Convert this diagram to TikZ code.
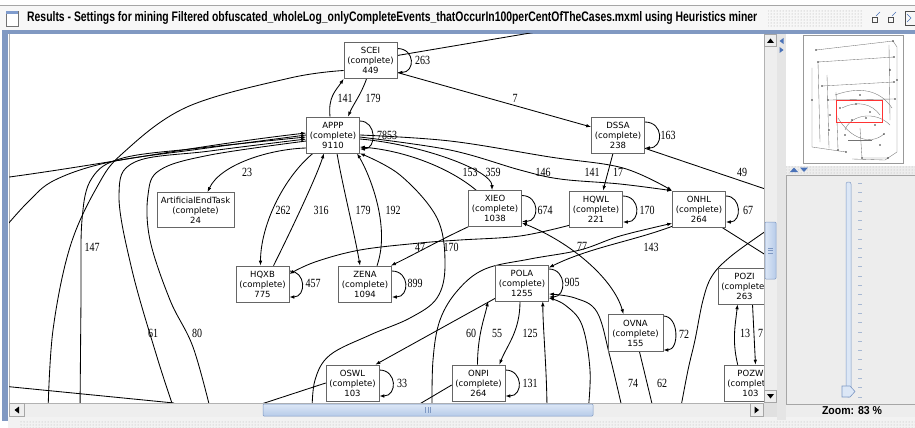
\documentclass[tikz,border=0pt]{standalone}
\usepackage{graphicx}
\usepackage{fontspec}
\setmainfont{Liberation Serif}
\newfontfamily\nodefont{DejaVu Sans}
\newfontfamily\uifont{Liberation Sans}
\newfontfamily\lblfont[FakeStretch=0.8]{Liberation Serif}
\usetikzlibrary{arrows.meta,calc,patterns}
\pgfdeclarelayer{back}
\pgfdeclarelayer{bg}
\pgfsetlayers{back,bg,main}
\definecolor{frameblue}{HTML}{8199C2}
\definecolor{trackgray}{HTML}{EEEEEE}
\definecolor{thumbA}{HTML}{DCE7F6}
\definecolor{thumbB}{HTML}{B7CBE9}
\definecolor{thumbline}{HTML}{7E98C3}
\definecolor{panelgray}{HTML}{EDEDED}
\definecolor{tickblue}{HTML}{A8B9D3}
\definecolor{arrblue}{HTML}{4A72B8}
\tikzset{
 act/.style={draw=black!60, fill=white, line width=0.6pt, minimum width=53pt, minimum height=36pt, inner sep=0pt, align=center, font=\nodefont\fontsize{8.5}{10}\selectfont},
 lbl/.style={font=\lblfont\fontsize{12.5}{14}\selectfont, inner sep=0pt},
 edge/.style={line width=0.85pt, draw=black},
 arr/.style={edge, -{Latex[length=5pt,width=3.6pt]}},
 darr/.style={edge, {Latex[length=5pt,width=3.6pt]}-{Latex[length=5pt,width=3.6pt]}},
 sm/.style={smooth, tension=0.6},
 btn/.style={fill=trackgray, draw=black!35, line width=0.4pt},
 ovl/.style={draw=black!55, line width=0.35pt},
 uitri/.style={fill=black},
 bluetri/.style={fill=arrblue},
}
\newcommand\actloop[3]{\draw[arr] ($(#1.east)+(0,-#2)$) .. controls +(#3,0) and +(#3,0) .. ($(#1.east)+(0,#2)$);}
\begin{document}
\begin{tikzpicture}[x=1pt,y=-1pt]
\useasboundingbox (0,0) rectangle (915,428);

% ---------- window chrome (back layer) ----------
\begin{pgfonlayer}{back}
\fill[white] (0,0) rectangle (915,428);
\fill[black!3] (0,5) rectangle (915,30);
\draw[black!35,line width=0.5pt] (0,5.5) -- (915,5.5);
\fill[pattern=dots, pattern color=black!35] (768,11) rectangle (862,27);
\fill[frameblue] (2,30) rectangle (915,34);
\fill[frameblue] (2,30) rectangle (8,421);
\fill[white] (9,34) rectangle (764,403);
\draw[black!30,line width=0.5pt] (9,34) -- (9,403);
\fill[panelgray] (777,34) rectangle (915,420);
\fill[black!5] (8,417) rectangle (915,428);
\fill[pattern=dots, pattern color=black!30] (20,421) rectangle (915,428);
\end{pgfonlayer}

% ---------- activity nodes ----------
\begin{scope}
\clip (9,34) rectangle (764,403);
\node[act] (SCEI) at (370.5,60.5) {SCEI\\(complete)\\449};
\node[act] (APPP) at (333,135) {APPP\\(complete)\\9110};
\node[act] (DSSA) at (618,135) {DSSA\\(complete)\\238};
\node[act, minimum width=77pt, minimum height=35pt] (AET) at (195.5,210) {ArtificialEndTask\\(complete)\\24};
\node[act] (XIEO) at (495,208.5) {XIEO\\(complete)\\1038};
\node[act] (HQWL) at (596,209) {HQWL\\(complete)\\221};
\node[act] (ONHL) at (699,209) {ONHL\\(complete)\\264};
\node[act] (HQXB) at (262.5,284) {HQXB\\(complete)\\775};
\node[act] (ZENA) at (365,284) {ZENA\\(complete)\\1094};
\node[act] (POLA) at (522,283) {POLA\\(complete)\\1255};
\node[act] (POZI) at (744.5,286) {POZI\\(complete)\\263};
\node[act, minimum width=55pt, minimum height=37pt] (OVNA) at (635.5,333) {OVNA\\(complete)\\155};
\node[act] (OSWL) at (352.5,383) {OSWL\\(complete)\\103};
\node[act] (ONPI) at (478.5,383) {ONPI\\(complete)\\264};
\node[act] (POZW) at (750.5,383) {POZW\\(complete)\\103};

% free ends
\coordinate (cTR) at (548,30);
\coordinate (cBL1) at (48,412);
\coordinate (cL1) at (2,178);
\coordinate (cL2) at (2,231);
\coordinate (cB3) at (80,412);
\coordinate (cB4) at (175,412);
\coordinate (cB5) at (211,412);
\coordinate (cL7) at (2,386);
\coordinate (cB6) at (174,403);
\coordinate (cB7) at (312,412);
\coordinate (cR1) at (780,194);
\coordinate (cB10) at (432,412);
\coordinate (cB11) at (547,412);
\coordinate (cB12) at (588,412);
\coordinate (cB13) at (623,412);
\coordinate (cB14) at (654,412);
\coordinate (cR2) at (780,222);
\coordinate (cB15) at (680,412);
\coordinate (cR3) at (780,264);
\coordinate (cB16) at (237,412);
\coordinate (cB17) at (406,412);

% anchors on nodes
\coordinate (sA) at ($(SCEI.west)+(0,10)$);
\coordinate (aL1) at ($(APPP.west)+(0,-2)$);
\coordinate (aL2) at ($(APPP.west)+(0,0)$);
\coordinate (aL3) at ($(APPP.west)+(0,2)$);
\coordinate (aL4) at ($(APPP.west)+(0,4)$);
\coordinate (aL5) at ($(APPP.west)+(0,6)$);
\coordinate (aR3) at ($(APPP.east)+(0,2)$);
\coordinate (aR4) at ($(APPP.east)+(0,0)$);
\coordinate (hqA) at ($(HQWL.south west)+(0,-2)$);
\coordinate (hB) at ($(HQXB.east)+(0,-10)$);
\coordinate (oB) at ($(ONHL.south west)+(0,-4)$);
\coordinate (pA) at ($(POLA.east)+(0,15)$);
\coordinate (pB) at ($(POLA.east)+(0,11)$);
\end{scope}

% ---------- edge labels ----------
\begin{scope}
\clip (9,34) rectangle (764,403);
\node[lbl] (l263) at (422.5,60) {263};
\node[lbl] (l141a) at (345,98) {141};
\node[lbl] (l179a) at (373,98) {179};
\node[lbl] (l7a) at (515,98) {7};
\node[lbl] (l7853) at (387,135) {7853};
\node[lbl] (l163) at (668,135) {163};
\node[lbl] (l23) at (247,172) {23};
\node[lbl] (l153) at (470,172) {153};
\node[lbl] (l359) at (493,172) {359};
\node[lbl] (l146) at (543,172) {146};
\node[lbl] (l141b) at (592,172) {141};
\node[lbl] (l17) at (618,172) {17};
\node[lbl] (l49) at (742,172) {49};
\node[lbl] (l262) at (283,210) {262};
\node[lbl] (l316) at (321,210) {316};
\node[lbl] (l179b) at (363,210) {179};
\node[lbl] (l192) at (393,210) {192};
\node[lbl] (l674) at (545,210) {674};
\node[lbl] (l170a) at (647,210) {170};
\node[lbl] (l67) at (748,210) {67};
\node[lbl] (l147) at (92,247) {147};
\node[lbl] (l47) at (420,247) {47};
\node[lbl] (l170b) at (451,247) {170};
\node[lbl] (l77) at (582,246) {77};
\node[lbl] (l143) at (651,247) {143};
\node[lbl] (l457) at (313,283) {457};
\node[lbl] (l899) at (415,283) {899};
\node[lbl] (l905) at (572,282) {905};
\node[lbl] (l61) at (153,333) {61};
\node[lbl] (l80) at (197,333) {80};
\node[lbl] (l60) at (471,333) {60};
\node[lbl] (l55) at (497,333) {55};
\node[lbl] (l125) at (530,333) {125};
\node[lbl] (l72) at (684,334) {72};
\node[lbl] (l13) at (745,333) {13};
\node[lbl, anchor=west] (l7b) at (758,333) {7};
\node[lbl] (l33) at (402,383) {33};
\node[lbl] (l131) at (530,383) {131};
\node[lbl] (l74) at (633,383) {74};
\node[lbl] (l62) at (662,383) {62};
\end{scope}

% ---------- connectors (bg layer) ----------
\begin{pgfonlayer}{bg}
\begin{scope}
\clip (9,34) rectangle (764,403);
% self loops
\actloop{SCEI}{12}{18}
\actloop{APPP}{14}{17}
\actloop{DSSA}{13}{19}
\actloop{XIEO}{13}{18}
\actloop{HQWL}{13}{18}
\actloop{ONHL}{13}{16}
\actloop{HQXB}{13}{17}
\actloop{ZENA}{13}{18}
\actloop{POLA}{14}{18}
\actloop{OVNA}{17}{16}
\actloop{OSWL}{13}{18}
\actloop{ONPI}{13}{18}
% SCEI
\draw[edge] plot[sm] coordinates {(sA) (290,78) (187,107) (123,153) (97,187) (70,247) (53,330) (cBL1)};
\draw[edge] (cTR) -- ($(SCEI.east)+(0,-5)$);
\draw[arr] ($(SCEI.east)+(0,12)$) -- ($(DSSA.west)+(0,-8)$);
\draw[arr] ($(APPP.north)+(-3,0)$) .. controls +(-2,-20) and +(-8,12) .. (SCEI.south west);
\draw[arr] ($(SCEI.south)+(-4,0)$) .. controls +(-5,15) and +(5,-12) .. ($(APPP.north)+(15,0)$);
% APPP left fan
\draw[arr] (cL1) .. controls (100,165) and (200,145) .. (aL1);
\draw[edge] plot[sm] coordinates {(aL2) (200,149) (110,162) (55,180) (28,202) (cL2)};
\draw[arr] plot[sm] coordinates {(cB3) (81,300) (82,220) (92,178) (123,158) (200,148) (aL3)};
\draw[arr] plot[sm] coordinates {(cB4) (157,357) (132,270) (119,195) (135,162) (210,151) (aL4)};
\draw[edge] plot[sm] coordinates {(aL5) (210,155) (160,170) (148,195) (150,240) (170,300) (193,347) (cB5)};
\draw[arr] ($(APPP.west)+(0,13)$) .. controls +(-36,1) and +(13,-28) .. ($(AET.north)+(12,0)$);
\draw[edge] (cL7) -- (cB6);
% APPP bottom
\draw[arr] ($(APPP.south)+(-20,0)$) .. controls +(-30,25) and +(0,-40) .. ($(HQXB.north)+(-2,0)$);
\draw[arr] ($(HQXB.north)+(11,0)$) .. controls +(15,-30) and +(-8,25) .. ($(APPP.south)+(-9,0)$);
\draw[arr] ($(APPP.south)+(4,0)$) .. controls +(5,30) and +(-5,-30) .. ($(ZENA.north)+(-5,0)$);
\draw[arr] ($(ZENA.north)+(12,0)$) .. controls +(14,-40) and +(12,20) .. ($(APPP.south)+(24,0)$);
\draw[arr] plot[sm] coordinates {(cB7) (315,380) (330,355) (370,335) (410,318) (437,298) (445,265) (437,218) (400,175) (APPP.south east)};
% APPP right
\draw[arr] ($(XIEO.north west)+(8,0)$) .. controls +(-30,-25) and +(40,3) .. ($(APPP.east)+(0,12)$);
\draw[arr] ($(APPP.east)+(0,4)$) .. controls +(60,5) and +(0,-20) .. ($(XIEO.north)+(-3,0)$);
\draw[arr] plot[sm] coordinates {(aR3) (450,150) (520,170) (560,179) (620,184) (ONHL.north west)};
\draw[arr] plot[sm] coordinates {(aR4) (450,141) (550,157) (623,168) (ONHL.north west)};
% DSSA
\draw[arr] ($(DSSA.south)+(-5,0)$) -- ($(HQWL.north)+(7,0)$);
\draw[edge] ($(DSSA.south east)+(0,-5)$) -- (cR1);
% middle
\draw[arr] (XIEO.south west) .. controls +(-30,14) and +(25,-12) .. ($(ZENA.north east)+(-1,0)$);
\draw[arr] plot[sm] coordinates {(hqA) (520,236) (460,240) (420,243) (360,250) (315,262) (hB)};
\draw[darr] ($(XIEO.south east)+(0,-4)$) .. controls +(50,20) and +(-10,-35) .. ($(OVNA.north)+(-12,0)$);
\draw[arr] ($(ONHL.south west)+(0,-1)$) .. controls +(-40,15) and +(40,-20) .. ($(POLA.north east)+(0,3)$);
\draw[arr] plot[sm] coordinates {(cB10) (433,360) (440,320) (458,290) (485,269) (530,259) (580,250) (620,236) (oB)};
% POLA
\draw[arr] ($(POLA.south west)+(0,-3)$) -- ($(OSWL.north east)+(-4,0)$);
\draw[arr] ($(ONPI.north)+(-1,0)$) .. controls +(0,-30) and +(-3,15) .. ($(POLA.south)+(-34,0)$);
\draw[arr] ($(POLA.south)+(-2,0)$) .. controls +(0,30) and +(8,-20) .. ($(ONPI.north east)+(-6,0)$);
\draw[arr] (cB11) .. controls +(0,-40) and +(0,25) .. ($(POLA.south east)+(-6,0)$);
\draw[arr] plot[sm] coordinates {(cB12) (590,370) (582,325) (565,305) (pA)};
\draw[arr] plot[sm] coordinates {(cB13) (610,357) (597,312) (575,298) (pB)};
\draw[edge] ($(OVNA.south)+(4,0)$) -- (cB14);
% right side
\draw[edge] plot[sm] coordinates {(cR2) (763,233) (730,257) (712,276) (703,300) (695,340) (688,370) (cB15)};
\draw[edge] ($(ONHL.south east)+(-4,0)$) -- (cR3);
\draw[arr] ($(POZW.north west)+(14,0)$) .. controls +(-6,-25) and +(-2,20) .. ($(POZI.south)+(-7,0)$);
\draw[arr] ($(POZI.south)+(8,0)$) -- ($(POZW.north)+(5,0)$);
% bottom
\draw[edge] (OSWL.west) -- (cB16);
\draw[edge] ($(ONPI.west)+(0,2)$) -- (cB17);
\end{scope}
\end{pgfonlayer}

% ---------- title bar ----------
\draw[black!55,fill=white,line width=0.5pt] (6,11) rectangle (18,26);
\fill[arrblue!70] (6.3,11.3) rectangle (17.7,14);
\node[anchor=base west, inner sep=0pt] (title) at (27,21.5) {\resizebox{730pt}{10pt}{\uifont\bfseries Results - Settings for mining Filtered obfuscated\_wholeLog\_onlyCompleteEvents\_thatOccurIn100perCentOfTheCases.mxml using Heuristics miner}};
\draw[black!70,line width=0.6pt] (872,17) rectangle (877,22);
\draw[arrblue,line width=0.6pt] (876,16) -- (880,12);
\draw[black!70,line width=0.6pt] (888,17) rectangle (893,22);
\draw[arrblue,line width=0.6pt] (892,16) -- (896,12);
\draw[black!70,line width=0.6pt] (905,11) rectangle (915,25);
\draw[arrblue,line width=0.6pt] (907,14) -- (911,18) -- (907,22);

% ---------- vertical scrollbar ----------
\fill[trackgray] (764,34) rectangle (777,403);
\draw[black!30,line width=0.4pt] (764,34) -- (764,403);
\draw[btn] (764.5,34.5) rectangle (776.5,46);
\fill[uitri] (767,43) -- (774,43) -- (770.5,38.5) -- cycle;
\draw[left color=thumbA, right color=thumbB, draw=thumbline, line width=0.5pt, rounded corners=1pt] (765,222) rectangle (776,279);
\draw[thumbline,line width=0.4pt] (768,248) -- (773,248) (768,250.5) -- (773,250.5) (768,253) -- (773,253);
\draw[btn] (764.5,390) rectangle (776.5,402.5);
\fill[uitri] (767,394) -- (774,394) -- (770.5,398.5) -- cycle;

% ---------- horizontal scrollbar ----------
\fill[trackgray] (9,403) rectangle (777,417);
\draw[black!30,line width=0.4pt] (9,403) -- (777,403);
\draw[btn] (9.5,403.5) rectangle (24,416.5);
\fill[uitri] (19,406.5) -- (19,413.5) -- (14.5,410) -- cycle;
\draw[top color=thumbA, bottom color=thumbB, draw=thumbline, line width=0.5pt, rounded corners=1pt] (263,404) rectangle (593,416);
\draw[thumbline,line width=0.4pt] (425.5,407) -- (425.5,413) (428,407) -- (428,413) (430.5,407) -- (430.5,413);
\draw[btn] (750,403.5) rectangle (763.5,416.5);
\fill[uitri] (754.5,406.5) -- (754.5,413.5) -- (759,410) -- cycle;
\fill[black!12] (764,403) rectangle (777,417);

% ---------- right panel ----------
\fill[black!10] (777,34) rectangle (786,420);
\fill[bluetri] (783.5,38) -- (783.5,44) -- (779.5,41) -- cycle;
\fill[bluetri] (779.5,47) -- (779.5,53) -- (783.5,50) -- cycle;
\fill[white] (786,34) rectangle (915,166);
\draw[black!40,line width=0.4pt] (803,35) rectangle (903,163);
\fill[pattern=dots, pattern color=black!30] (786,166) rectangle (915,175);
\fill[bluetri] (790,172) -- (798,172) -- (794,167.5) -- cycle;
\fill[bluetri] (800,167.5) -- (808,167.5) -- (804,172) -- cycle;
\draw[black!35,line width=0.4pt,fill=panelgray] (786,175) rectangle (915,404);
\draw[draw=thumbline, fill=thumbA, rounded corners=2pt, line width=0.5pt] (846,182) rectangle (851,397);
\foreach \ty in {183,192.3,...,397} {\draw[tickblue,line width=0.6pt] (858,\ty) -- (862,\ty);}
\draw[fill=thumbA, draw=thumbline, line width=0.6pt] (842,386) -- (850,386) -- (855,391.5) -- (850,397) -- (842,397) -- cycle;
\node[anchor=base, inner sep=0pt] (zoomlbl) at (852,414.5) {\resizebox{60pt}{8pt}{\uifont\bfseries Zoom: 83 \%}};

% overview thumbnail
\begin{scope}[ovl]
\draw (816,50) -- (893,41) -- (897,47) -- (897,152) -- (885,160) -- (852,159);
\draw (812,68) -- (812,147) -- (846,152);
\draw (818,62) -- (894,57);
\draw (822,86) -- (894,82);
\draw (828,100) -- (895,99);
\draw (818,62) -- (820,142);
\draw (827,75) -- (829,148);
\draw (836,92) -- (838,150);
\draw (835,95) .. controls (860,86) and (880,90) .. (892,108);
\draw (838,118) .. controls (850,138) and (870,146) .. (884,134);
\draw (860,128) -- (862,158) -- (888,158);
\draw (845,130) .. controls (850,115) and (875,110) .. (890,125);
\draw (889,45) -- (890,120);
\draw (842,108) .. controls (858,100) and (872,104) .. (880,115);
\draw (848,140) -- (872,140);
\end{scope}
\foreach \px/\py in {816/50,893/41,897/80,812/100,846/152,818/62,894/57,822/86,894/82,828/100,895/99,829/130,838/150,860/95,870/112,884/134,862/158,888/158,852/120,875/125,840/108,856/104,866/118,845/135,880/145,830/115,890/70}
  {\fill[black!80] (\px,\py) circle (0.9pt);}
\draw[red!80,line width=0.5pt] (836,100) rectangle (882,122);
\end{tikzpicture}
\end{document}
